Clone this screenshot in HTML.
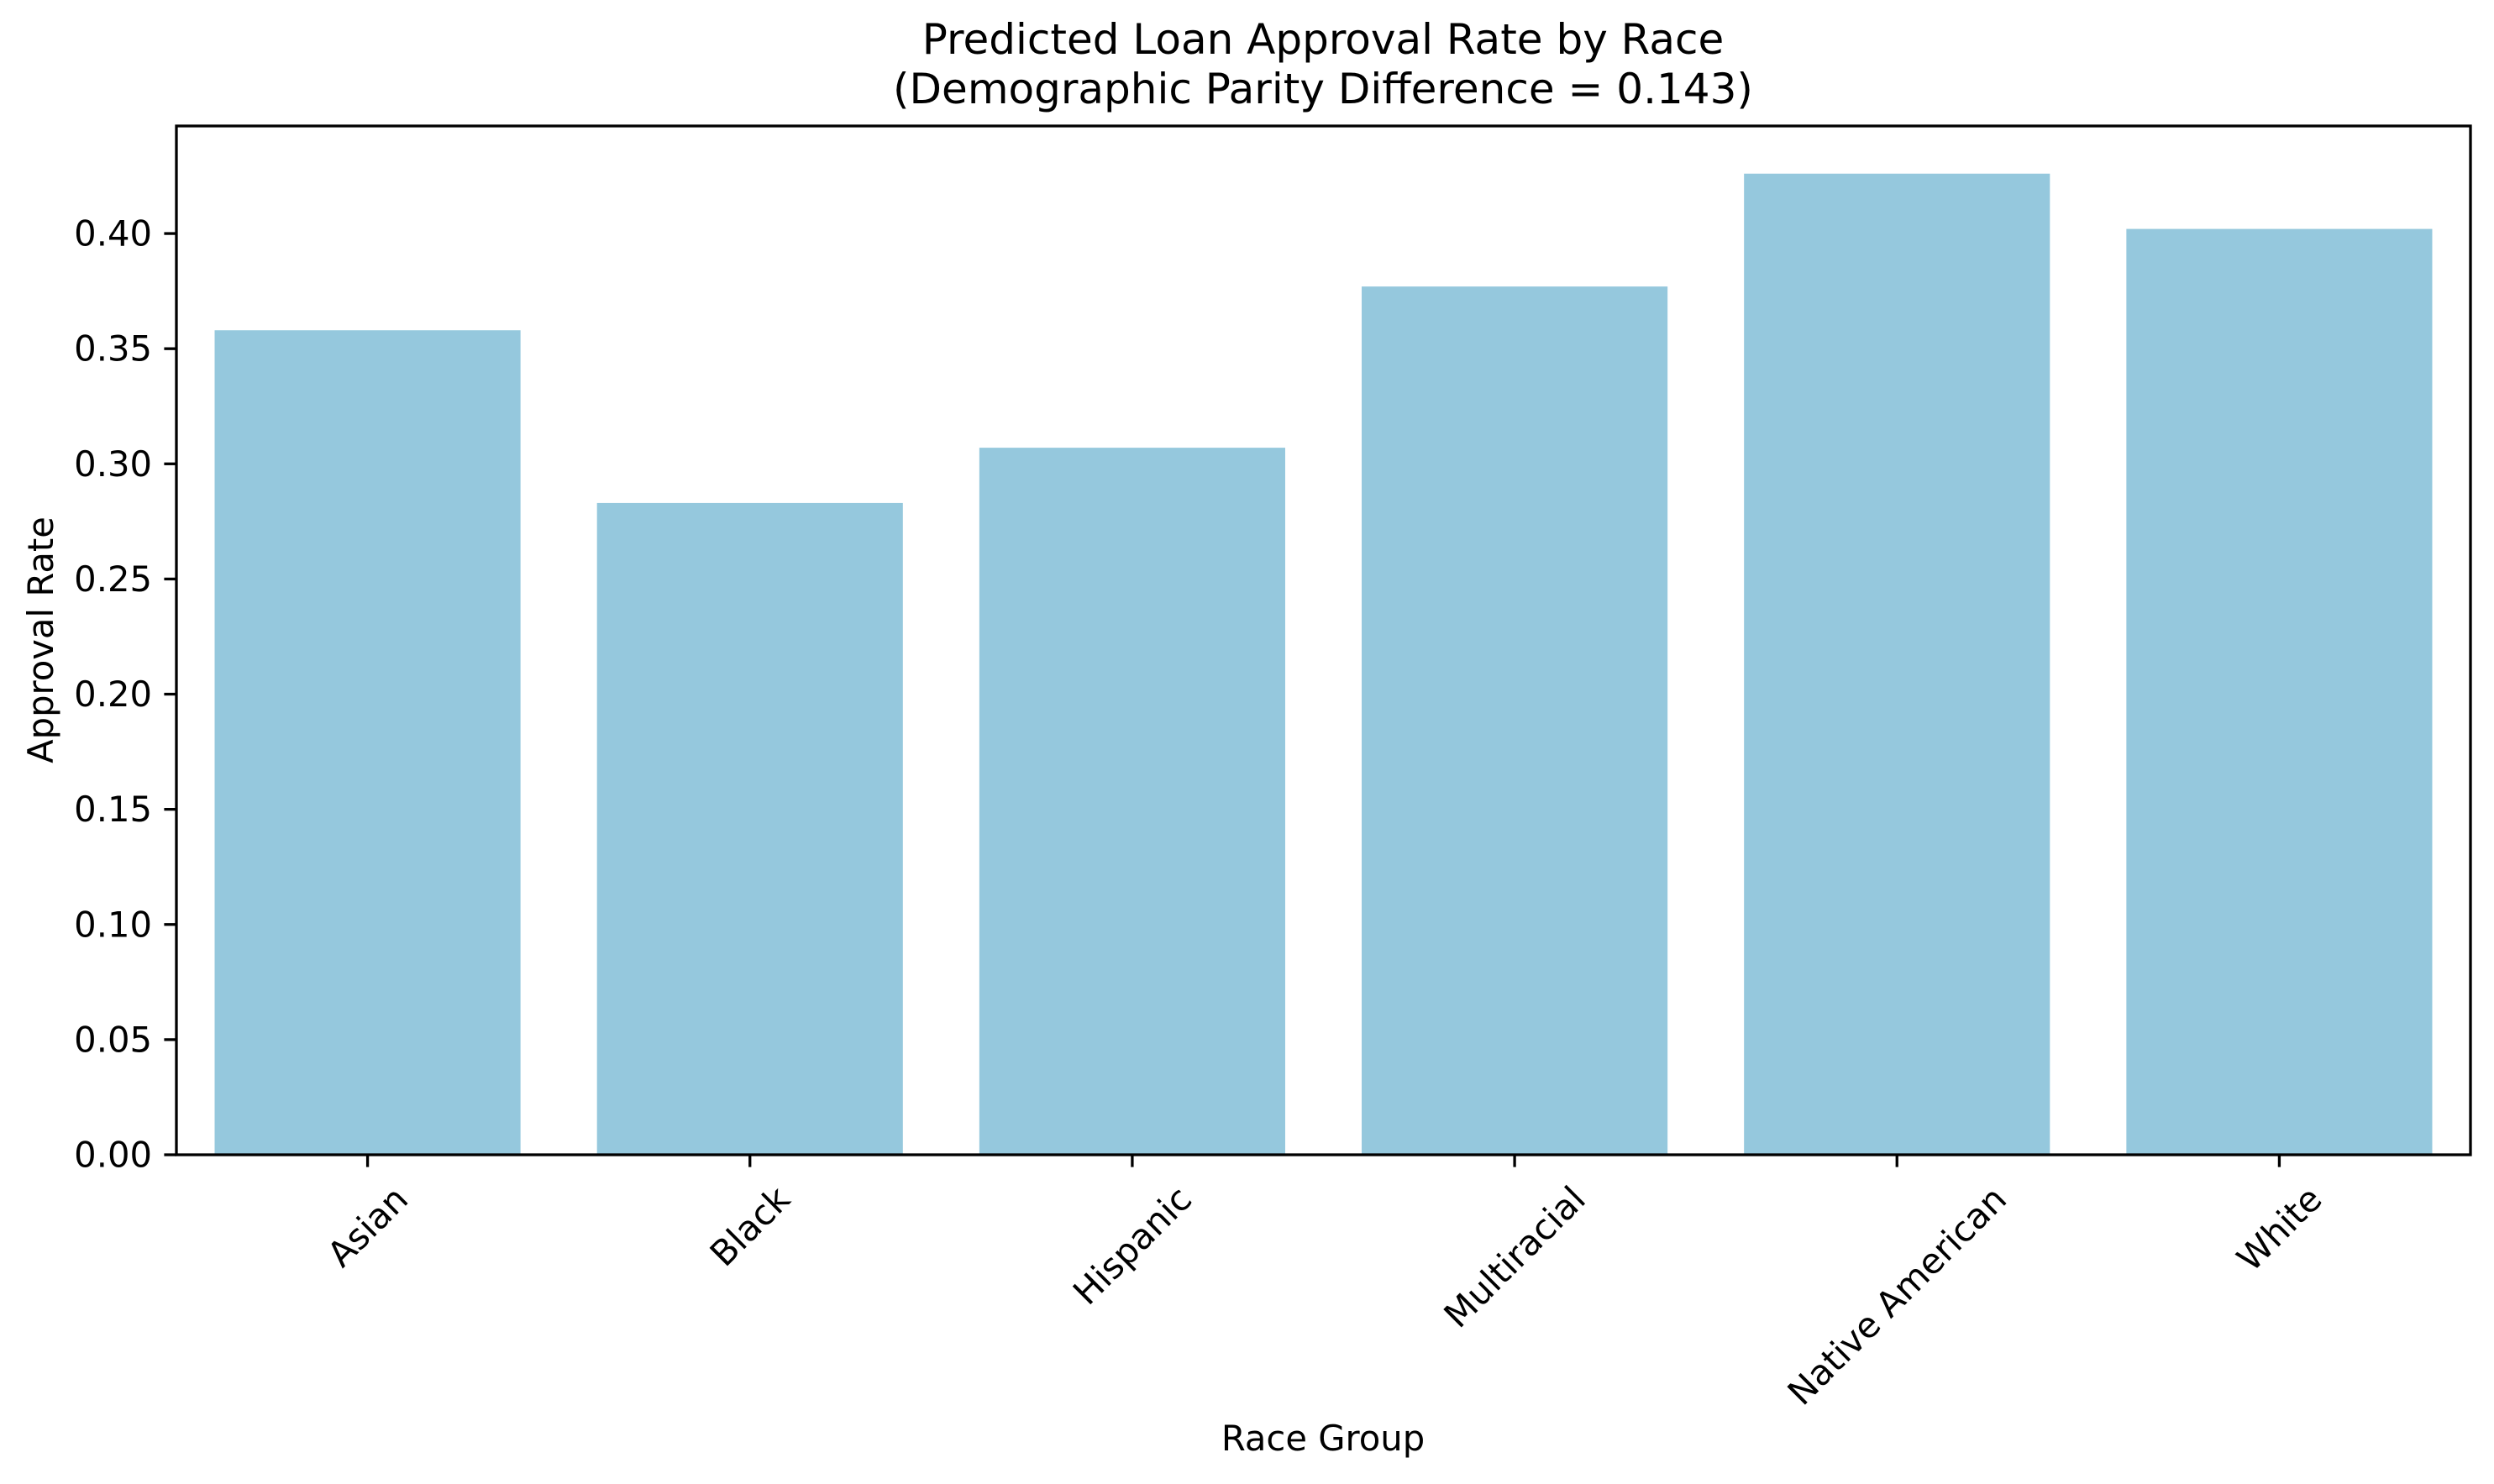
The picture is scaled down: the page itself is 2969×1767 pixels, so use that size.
<!DOCTYPE html>
<html><head><meta charset="utf-8"><style>
html,body{margin:0;padding:0;background:#fff}
svg{display:block;font-family:"DejaVu Sans","Liberation Sans",sans-serif}
</style></head><body>
<svg id="chart" width="2969" height="1767" viewBox="0 0 2969 1767">
<text x="1575" y="64" font-size="50" text-anchor="middle">Predicted Loan Approval Rate by Race</text>
<text x="1575" y="123" font-size="50" text-anchor="middle">(Demographic Parity Difference = 0.143)</text>
<g id="plot"></g>
<text x="1575" y="1727" font-size="41.7" text-anchor="middle">Race Group</text>
<text transform="translate(63,762) rotate(-90)" font-size="41.7" text-anchor="middle">Approval Rate</text>
</svg>
<script>
const categories = ["Asian","Black","Hispanic","Multiracial","Native American","White"];
const values = [0.358, 0.283, 0.307, 0.377, 0.426, 0.402];
const yTicks = [0, 0.05, 0.10, 0.15, 0.20, 0.25, 0.30, 0.35, 0.40];
const yTickLabels = ["0.00","0.05","0.10","0.15","0.20","0.25","0.30","0.35","0.40"];

const L=210, R=2941, T=150, B=1375, YMAX=0.4467;
const NS="http://www.w3.org/2000/svg";
const g=document.getElementById('plot');
const xBand=(R-L)/categories.length;
function xScale(i){return L+xBand*(i+0.5);}
function yScale(v){return B-(v/YMAX)*(B-T);}
function mk(tag,attrs){const e=document.createElementNS(NS,tag);for(const k in attrs)e.setAttribute(k,attrs[k]);g.appendChild(e);return e;}

values.forEach((v,i)=>{
  const w=xBand*0.8;
  const r=mk('rect',{x:xScale(i)-w/2,y:yScale(v),width:w,height:B-yScale(v),fill:'#95c8dd'});
  
  
});

const frame=mk('rect',{x:L,y:T,width:R-L,height:B-T,fill:'none',stroke:'#000','stroke-width':3.3});



yTicks.forEach((v,i)=>{
  const y=yScale(v);
  const t=mk('line',{x1:L-14.6,x2:L,y1:y,y2:y,stroke:'#000','stroke-width':3.3});
  
  
  const lb=mk('text',{x:L-29,y:y,'font-size':41.7,'text-anchor':'end','dominant-baseline':'central'});
  lb.textContent=yTickLabels[i];
  
  
});

categories.forEach((c,i)=>{
  const x=xScale(i);
  const t=mk('line',{x1:x,x2:x,y1:B,y2:B+14.6,stroke:'#000','stroke-width':3.3});
  
  
  const lb=mk('text',{x:0,y:0,'font-size':41.7,'text-anchor':'middle','dominant-baseline':'central'});
  lb.textContent=c;
  
  
  const w=lb.getComputedTextLength(), h=41.7*1.1;
  const cy=B+29+(w+h)*0.7071/2;
  lb.setAttribute('transform','translate('+x+','+cy+') rotate(-45)');
});
</script>
</body></html>
